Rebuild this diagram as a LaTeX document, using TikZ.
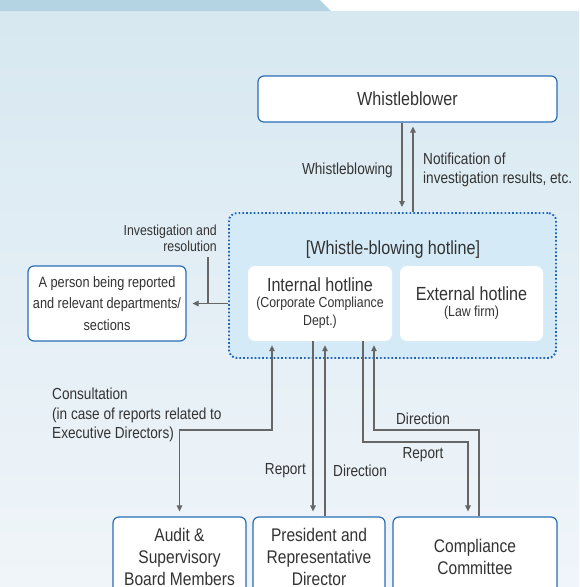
\documentclass[tikz,border=0pt]{standalone}
\usepackage{fontspec}
\setmainfont{Liberation Sans}[FakeStretch=0.85]
\usetikzlibrary{arrows.meta}
\definecolor{bgtop}{HTML}{D7E8F1}
\definecolor{bgbot}{HTML}{F0F5F9}
\definecolor{band}{HTML}{B4D4E4}
\definecolor{boxblue}{HTML}{2A6CB6}
\definecolor{dotblue}{HTML}{1F66BA}
\definecolor{hotfill}{HTML}{D5EAF7}
\definecolor{arrgray}{HTML}{666666}
\definecolor{txt}{HTML}{333333}
\newcommand{\fbig}{\fontsize{19}{22}\selectfont}
\newcommand{\fbx}{\fontsize{18.3}{22}\selectfont}
\newcommand{\fmid}{\fontsize{15}{21.5}\selectfont}
\newcommand{\flab}{\fontsize{16}{19.5}\selectfont}
\newcommand{\fsml}{\fontsize{14.5}{16}\selectfont}
\begin{document}
\begin{tikzpicture}[x=1pt,y=-1pt,
  box/.style={draw=boxblue, line width=1.2pt, fill=white, rounded corners=6pt, align=center, text=txt, inner sep=0pt},
  inbox/.style={fill=white, rounded corners=7pt, inner sep=0pt},
  hotbox/.style={draw=dotblue, line width=1.9pt, dash pattern=on 1.7pt off 2.1pt, fill=hotfill, rounded corners=8pt, inner sep=0pt},
  lbl/.style={text=txt, font=\flab, inner sep=0pt},
  conn/.style={draw=arrgray, line width=1.2pt},
  arr/.style={conn, -{Triangle[length=6pt,width=5.5pt]}},
  arrb/.style={conn, {Triangle[length=6pt,width=5.5pt]}-{Triangle[length=6pt,width=5.5pt]}}
]
\useasboundingbox (0,0) rectangle (579,587);
\clip (0,0) rectangle (579,587);
\fill[white] (0,0) rectangle (579,587);
\shade[top color=bgtop, bottom color=bgbot] (0,11) rectangle (579,587);
\fill[band] (0,0) -- (320,0) -- (331,11) -- (0,11) -- cycle;

% nodes
\node[box, minimum width=299pt, minimum height=46pt, font=\fbig] (wb) at (407.5,99) {Whistleblower};
\node[hotbox, minimum width=327pt, minimum height=145pt] (hot) at (392.5,285.5) {};
\node[text=txt, font=\fbig, inner sep=0pt] (ttl) at (393,250) {[Whistle-blowing hotline]};
\node[inbox, minimum width=144pt, minimum height=75pt] (int) at (320,303.5) {};
\node[inbox, minimum width=143pt, minimum height=75pt] (ext) at (471.5,303.5) {};
\node[text=txt, font=\fbig, inner sep=0pt] (intA) at (320,285) {Internal hotline};
\node[text=txt, font=\fsml, inner sep=0pt, align=center] (intB) at (320,312.5) {(Corporate Compliance\\[2.5pt]Dept.)};
\node[text=txt, font=\fbig, inner sep=0pt] (extA) at (471.5,294) {External hotline};
\node[text=txt, font=\fsml, inner sep=0pt] (extB) at (471.5,313) {(Law firm)};
\node[box, minimum width=158pt, minimum height=75pt, font=\fmid] (per) at (107,303.5) {A person being reported\\and relevant departments/\\sections};
\node[box, minimum width=133pt, minimum height=80pt, font=\fbx] (aud) at (179.5,557) {Audit \&\\Supervisory\\Board Members};
\node[box, minimum width=132pt, minimum height=80pt, font=\fbx] (pres) at (319,557) {President and\\Representative\\Director};
\node[box, minimum width=164pt, minimum height=80pt, font=\fbx] (comp) at (475,557) {Compliance\\Committee};

% labels
\node[lbl, anchor=east] (lwb) at (393,170) {Whistleblowing};
\node[lbl, anchor=west, align=left] (lnot) at (423,170) {Notification of\\investigation results, etc.};
\node[text=txt, font=\fsml, inner sep=0pt, anchor=east, align=right] (linv) at (217,238) {Investigation and\\resolution};
\node[lbl, anchor=west, align=left] (lcons) at (52,415) {Consultation\\(in case of reports related to\\Executive Directors)};
\node[lbl] (ldc) at (423,419) {Direction};
\node[lbl] (lrc) at (423,455) {Report};
\node[lbl, anchor=east] (lrp) at (306,471) {Report};
\node[lbl, anchor=west] (ldp) at (333,471) {Direction};

% connector coordinates
\coordinate (xa) at (402,0);
\coordinate (xb) at (413,0);
\coordinate (jv) at (208,303.5);
\coordinate (jt) at (208,257);
\coordinate (c1) at (272,430);
\coordinate (c2) at (179.5,430);
\coordinate (rp) at (313,0);
\coordinate (dp) at (325,0);
\coordinate (r2) at (363,442);
\coordinate (r3) at (468,442);
\coordinate (d2) at (479,430);
\coordinate (d3) at (374,430);

% connectors
\draw[arr, shorten >=5pt] (wb.south -| xa) -- (hot.north -| xa);
\draw[arr, shorten >=4pt] (hot.north -| xb) -- (wb.south -| xb);
\draw[arr, shorten >=6pt] (hot.west |- per.east) -- (per.east);
\draw[conn] (jv) -- (jt);
\draw[arrb, shorten <=4pt, shorten >=5pt] (int.south -| c1) -- (c1) -- (c2) -- (aud.north);
\draw[arr, shorten >=5pt] (int.south -| rp) -- (pres.north -| rp);
\draw[arr, shorten >=4pt] (pres.north -| dp) -- (int.south -| dp);
\draw[arr, shorten >=5pt] (int.south -| r2) -- (r2) -- (r3) -- (comp.north -| r3);
\draw[arr, shorten >=4pt] (comp.north -| d2) -- (d2) -- (d3) -- (int.south -| d3);
\end{tikzpicture}
\end{document}
